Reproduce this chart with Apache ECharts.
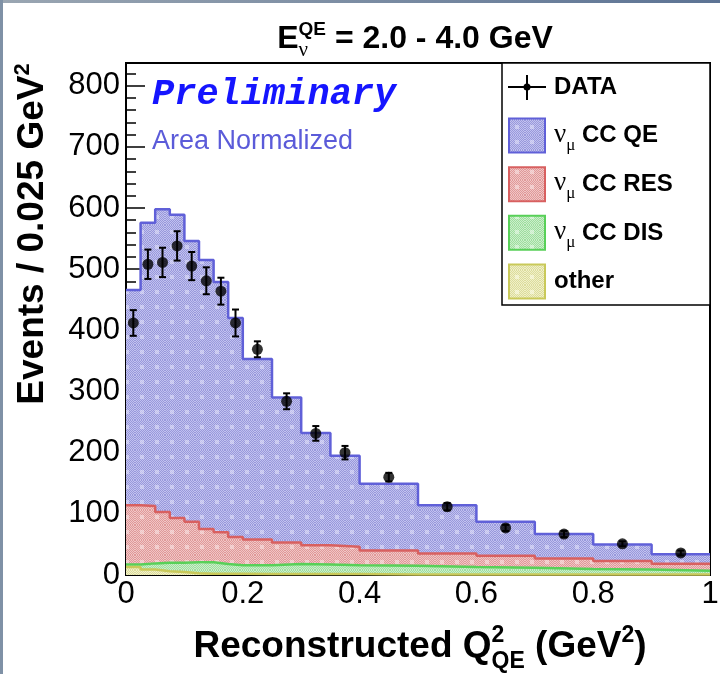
<!DOCTYPE html>
<html>
<head>
<meta charset="utf-8">
<script src="https://cdn.jsdelivr.net/npm/echarts@6/dist/echarts.min.js"></script>
<style>
  html, body { margin: 0; padding: 0; background: #ffffff; }
  #chart { width: 720px; height: 674px; }
</style>
</head>
<body>
<div id="chart"></div>
<script>
// Q2 bin edges (GeV^2); the last 10 bins are wider than the first 8
const binEdges = [0, 0.025, 0.05, 0.075, 0.1, 0.125, 0.15, 0.175, 0.2,
                  0.25, 0.3, 0.35, 0.4, 0.5, 0.6, 0.7, 0.8, 0.9, 1.0];

// Simulated contributions, events / 0.025 GeV^2 (stacked bottom to top: other, DIS, RES, QE)
const otherValues = [13, 9, 6, 5, 3, 2, 2, 2, 1.5, 1.5, 1.5, 1.5, 1, 1, 1, 1, 1, 1];
const disValues   = [4, 10, 14, 15, 18, 19, 16, 14, 14.5, 16.5, 15.5, 14.5, 14, 12, 11, 9, 8, 6];
const resValues   = [97, 94, 83, 73, 66, 54, 52, 46, 42, 35, 31.5, 30, 25, 22, 19.5, 17, 14, 11.5];
const qeValues    = [352, 463, 495, 496, 459, 440, 409, 358, 295, 237, 183.5, 149, 109, 79, 55.5, 40, 27, 15.5];

// Measured data and its statistical errors
const dataValues = [412, 508, 511, 538, 505, 481, 464, 412, 369, 284, 231.5, 200, 160, 111.6, 77, 67, 51, 36];
const dataErrors = [21, 24, 24, 24, 23, 22, 22, 22, 13, 13, 12, 11, 7, 6, 5, 5, 4, 4];

// Axis tick labels
const xTickLabels = ['0', '0.2', '0.4', '0.6', '0.8', '1'];
const yTickLabels = ['0', '100', '200', '300', '400', '500', '600', '700', '800'];

const SANS = '"Liberation Sans", Arial, Helvetica, sans-serif';
const SERIF = '"Liberation Serif", "Times New Roman", serif';

// Dotted fill similar to ROOT's pattern fills
function makePattern(c1, c2, c3) {
  const size = 15;
  const cv = document.createElement('canvas');
  cv.width = size; cv.height = size;
  const ctx = cv.getContext('2d');
  for (let y = 0; y < size; y++) {
    for (let x = 0; x < size; x++) {
      const odd = (x + y) % 2 === 1;
      const spot = (x >= 5 && x <= 8 && y >= 5 && y <= 8);
      ctx.fillStyle = odd ? (spot ? c3 : c2) : (spot ? c2 : c1);
      ctx.fillRect(x, y, 1, 1);
    }
  }
  return { image: cv, repeat: 'repeat' };
}

// stack layers, bottom first
const components = [
  { name: 'other',  values: otherValues, line: '#c9c95a', fill: makePattern('#dcdc9c', '#f0f0c8', '#f6f6dc') },
  { name: 'CC DIS', values: disValues,   line: '#58d058', fill: makePattern('#9ede9e', '#cbeecb', '#dcf4dc') },
  { name: 'CC RES', values: resValues,   line: '#d86060', fill: makePattern('#e09898', '#f0c6c6', '#f4d6d6') },
  { name: 'CC QE',  values: qeValues,    line: '#6060d8', fill: makePattern('#9898dc', '#c2c2ee', '#d4d4f4') }
];

// running sums: each layer's outline sits on top of everything below it
let running = otherValues.map(() => 0);
components.forEach(c => {
  running = running.map((r, i) => r + c.values[i]);
  c.cumulative = running.slice();
});

// step-line points at the lower edge of every bin, closed at the upper edge of the last bin
function stepData(vals) {
  const pts = vals.map((v, i) => [binEdges[i], v]);
  pts.push([binEdges[binEdges.length - 1], vals[vals.length - 1]]);
  return pts;
}

const binCenters = dataValues.map((_, i) => (binEdges[i] + binEdges[i + 1]) / 2);
const dataPoints = dataValues.map((v, i) => [binCenters[i], v, dataErrors[i]]);

// text measuring for formula-like labels with super/subscripts
const mctx = document.createElement('canvas').getContext('2d');
function textWidth(str, font) { mctx.font = font; return mctx.measureText(str).width; }

function formula(pieces, gx, gy, anchor, rotation) {
  let x = 0, lastStart = 0;
  const items = [];
  pieces.forEach(p => {
    const fam = p.family || SANS;
    const font = (p.style || 'normal') + ' ' + (p.weight || 'normal') + ' ' + p.size + 'px ' + fam;
    const w = textWidth(p.text, font);
    let start;
    if (p.stack) { start = lastStart; x = Math.max(x, start + w); }
    else { start = x; x += w; }
    lastStart = start;
    items.push({ start, font, text: p.text, size: p.size, dy: p.dy || 0, fill: p.fill || '#000' });
  });
  const off = anchor === 'center' ? -x / 2 : 0;
  return {
    type: 'group', x: gx, y: gy, rotation: rotation || 0, silent: true,
    children: items.map(it => ({
      type: 'text',
      x: it.start + off,
      y: it.dy - 0.35 * it.size,
      style: {
        text: it.text, font: it.font, fill: it.fill,
        align: 'left', verticalAlign: 'middle',
        textAlign: 'left', textVerticalAlign: 'middle'
      }
    }))
  };
}

// legend drawn as a boxed list in the upper-right corner
function legendGraphics() {
  const els = [];
  els.push({ type: 'rect', shape: { x: 502, y: 63, width: 208, height: 242 },
             style: { fill: '#fff', stroke: '#000', lineWidth: 1.5 }, silent: true });
  const rowY = i => 87 + i * 48.6;
  // DATA marker: cross with dot
  const cy0 = rowY(0);
  els.push({ type: 'line', shape: { x1: 508, y1: cy0, x2: 546, y2: cy0 }, style: { stroke: '#000', lineWidth: 2 } });
  els.push({ type: 'line', shape: { x1: 527, y1: cy0 - 12, x2: 527, y2: cy0 + 13 }, style: { stroke: '#000', lineWidth: 2 } });
  els.push({ type: 'circle', shape: { cx: 527, cy: cy0, r: 3.5 }, style: { fill: '#000' } });
  els.push(formula([{ text: 'DATA', size: 24, weight: 'bold' }], 554, cy0 + 8.5));
  const order = components.slice().reverse();
  order.forEach((c, k) => {
    const cy = rowY(k + 1);
    els.push({ type: 'rect', shape: { x: 509, y: cy - 17, width: 36, height: 34 },
               style: { fill: c.fill, stroke: c.line, lineWidth: 2 } });
    let pieces;
    if (c.name === 'other') {
      pieces = [{ text: 'other', size: 24, weight: 'bold' }];
    } else {
      pieces = [
        { text: 'ν', size: 27, family: SERIF },
        { text: 'μ', size: 17, family: SERIF, dy: 7 },
        { text: ' ' + c.name, size: 24, weight: 'bold' }
      ];
    }
    els.push(formula(pieces, 554, cy + 8.5));
  });
  return els;
}

const chart = echarts.init(document.getElementById('chart'), null, { renderer: 'canvas' });

// each layer is filled from zero; lower layers are drawn over the upper ones
const mcSeries = components.map((c, k) => ({
  name: c.name,
  type: 'line',
  step: 'end',
  data: stepData(c.cumulative),
  symbol: 'none',
  showSymbol: false,
  silent: true,
  z: 2 + (components.length - k),
  itemStyle: { color: c.line },
  lineStyle: { color: c.line, width: 2.5 },
  areaStyle: { color: c.fill, opacity: 1, origin: 'start' }
}));

const option = {
  animation: false,
  backgroundColor: '#ffffff',
  grid: {
    left: 126, right: 10, top: 63, bottom: 99,
    containLabel: false, outerBoundsMode: 'none',
    show: true, borderColor: '#000', borderWidth: 2, backgroundColor: 'transparent'
  },
  xAxis: {
    type: 'value', min: 0, max: 1, interval: 0.2,
    axisLine: { show: true, onZero: false, lineStyle: { color: '#000', width: 2 } },
    axisTick: { show: true, inside: true, length: 14, lineStyle: { color: '#000', width: 1.5 } },
    minorTick: { show: true, splitNumber: 4, length: 7, lineStyle: { color: '#000', width: 1.5 } },
    splitLine: { show: false },
    axisLabel: {
      color: '#000', fontFamily: SANS, fontSize: 31, margin: 4,
      formatter: v => xTickLabels[Math.round(v / 0.2)] || ''
    }
  },
  yAxis: {
    type: 'value', min: 0, max: 837, interval: 100,
    axisLine: { show: true, onZero: false, lineStyle: { color: '#000', width: 2 } },
    axisTick: { show: true, inside: true, length: 19, lineStyle: { color: '#000', width: 1.5 } },
    minorTick: { show: true, splitNumber: 5, length: 10, lineStyle: { color: '#000', width: 1.5 } },
    splitLine: { show: false },
    axisLabel: {
      color: '#000', fontFamily: SANS, fontSize: 31, margin: 6,
      formatter: v => (v % 100 === 0 && yTickLabels[v / 100] !== undefined) ? yTickLabels[v / 100] : ''
    }
  },
  series: mcSeries.concat([
    {
      name: 'DATA errors',
      type: 'custom',
      z: 10,
      silent: true,
      data: dataPoints,
      encode: { x: 0, y: 1 },
      renderItem: (params, api) => {
        const x = api.value(0), y = api.value(1), e = api.value(2);
        const top = api.coord([x, y + e]);
        const bot = api.coord([x, y - e]);
        const cap = 3.5;
        const st = { stroke: '#000', lineWidth: 2 };
        return {
          type: 'group',
          children: [
            { type: 'line', shape: { x1: top[0], y1: top[1], x2: bot[0], y2: bot[1] }, style: st },
            { type: 'line', shape: { x1: top[0] - cap, y1: top[1], x2: top[0] + cap, y2: top[1] }, style: st },
            { type: 'line', shape: { x1: bot[0] - cap, y1: bot[1], x2: bot[0] + cap, y2: bot[1] }, style: st }
          ]
        };
      }
    },
    {
      name: 'DATA',
      type: 'scatter',
      z: 11,
      silent: true,
      symbol: 'circle',
      symbolSize: 11,
      itemStyle: { color: '#000' },
      data: dataPoints.map(p => [p[0], p[1]])
    }
  ]),
  graphic: [
    // slide frame strips
    { type: 'rect', shape: { x: 0, y: 0, width: 720, height: 3 }, silent: true,
      style: { fill: new echarts.graphic.LinearGradient(0, 0, 1, 0, [
        { offset: 0, color: '#9aa6b2' }, { offset: 1, color: '#5c7394' }]) } },
    { type: 'rect', shape: { x: 0, y: 0, width: 3, height: 674 }, silent: true,
      style: { fill: '#7f91a6' } },
    // title
    formula([
      { text: 'E', size: 32, weight: 'bold' },
      { text: 'QE', size: 19, weight: 'bold', dy: -14 },
      { text: 'ν', size: 21, family: SERIF, dy: 8, stack: true },
      { text: ' = 2.0 - 4.0 GeV', size: 32, weight: 'bold' }
    ], 415, 50, 'center'),
    // axis titles
    formula([
      { text: 'Reconstructed Q', size: 37, weight: 'bold' },
      { text: '2', size: 23, weight: 'bold', dy: -16 },
      { text: 'QE', size: 23, weight: 'bold', dy: 10, stack: true },
      { text: ' (GeV', size: 37, weight: 'bold' },
      { text: '2', size: 23, weight: 'bold', dy: -16 },
      { text: ')', size: 37, weight: 'bold' }
    ], 420, 660, 'center'),
    formula([
      { text: 'Events / 0.025 GeV', size: 37, weight: 'bold' },
      { text: '2', size: 22, weight: 'bold', dy: -15 }
    ], 46, 234, 'center', Math.PI / 2),
    // annotations
    { type: 'text', x: 152, y: 108 - 0.35 * 37, silent: true,
      style: { text: 'Preliminary', font: 'italic bold 37px "Liberation Mono", "Courier New", monospace',
               fill: '#1515ff', align: 'left', verticalAlign: 'middle', textAlign: 'left', textVerticalAlign: 'middle' } },
    { type: 'text', x: 152, y: 151 - 0.35 * 27, silent: true,
      style: { text: 'Area Normalized', font: 'normal 27px ' + SANS,
               fill: '#5b5bd9', align: 'left', verticalAlign: 'middle', textAlign: 'left', textVerticalAlign: 'middle' } }
  ].concat(legendGraphics())
};

chart.setOption(option);
</script>
</body>
</html>
